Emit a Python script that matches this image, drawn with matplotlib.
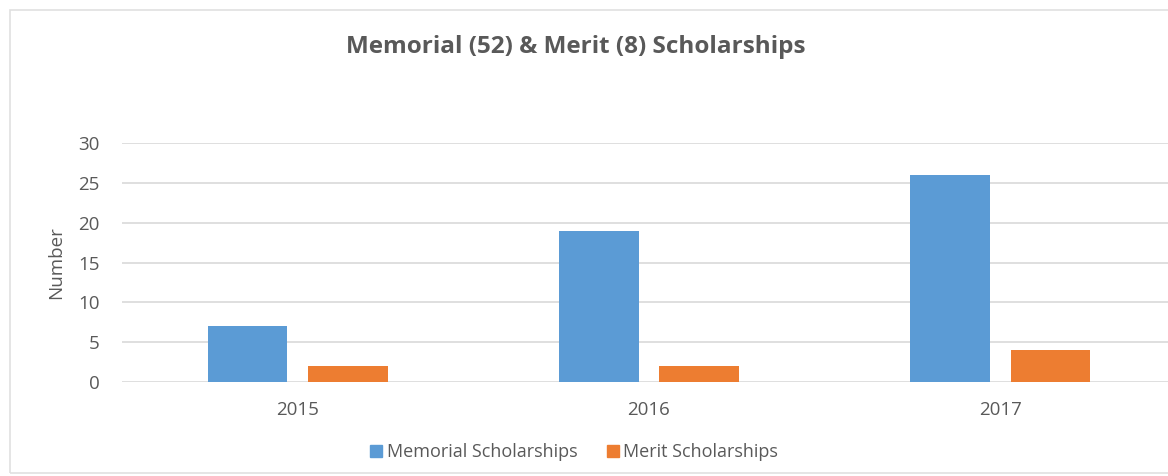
import matplotlib
matplotlib.use("Agg")
import matplotlib.pyplot as plt
import numpy as np
from matplotlib.patches import Rectangle
from matplotlib.lines import Line2D

years = ["2015", "2016", "2017"]
memorial = [7, 19, 26]
merit = [2, 2, 4]
yticks = [0, 5, 10, 15, 20, 25, 30]

plt.rcParams["font.family"] = ["Open Sans", "DejaVu Sans"]
text_color = "#595959"
blue = "#5b9bd5"
orange = "#ed7d31"

W, H = 1168, 476
fig = plt.figure(figsize=(W / 100, H / 100), dpi=100)

# chart border (runs off the right edge like the reference crop)
fig.patches.append(Rectangle((10 / W, 3 / H), 1.2, (H - 13) / H,
                             transform=fig.transFigure, fill=False,
                             edgecolor="#e0e0e0", linewidth=1.2))

ax = fig.add_axes([122 / W, 94 / H, 1054 / W, 239 / H])
x = np.arange(len(years))
w = 0.227
ax.bar(x - 0.143, memorial, w, color=blue, zorder=3)
ax.bar(x + 0.143, merit, w, color=orange, zorder=3)

ax.set_xlim(-0.5, 2.5)
ax.set_ylim(0, 30)
ax.set_yticks(yticks)
ax.set_xticks(x)
ax.set_xticklabels(years)
ax.grid(axis="y", color="#d9d9d9", linewidth=1.2, zorder=0)
for s in ax.spines.values():
    s.set_visible(False)
ax.tick_params(length=0, colors=text_color, labelsize=13.5)
ax.tick_params(axis="y", pad=16)
ax.tick_params(axis="x", pad=14)
ax.set_ylabel("Number", color=text_color, fontsize=13.5)
ax.yaxis.set_label_coords((65 - 122) / 1054, 0.5)

fig.text(576 / W, 1 - 47 / H, "Memorial (52) & Merit (8) Scholarships",
         ha="center", va="center", fontsize=17.5, fontweight="bold", color=text_color)

handles = [Line2D([], [], marker="s", linestyle="", color=blue, markersize=8),
           Line2D([], [], marker="s", linestyle="", color=orange, markersize=8)]
leg = fig.legend(handles, ["Memorial Scholarships", "Merit Scholarships"],
                 loc="center", bbox_to_anchor=(573 / W, 1 - 452 / H), ncol=2,
                 frameon=False, fontsize=13, handletextpad=0.15, columnspacing=1.5,
                 handlelength=0.9)
for t in leg.get_texts():
    t.set_color(text_color)

fig.savefig("out.png", dpi=100)
